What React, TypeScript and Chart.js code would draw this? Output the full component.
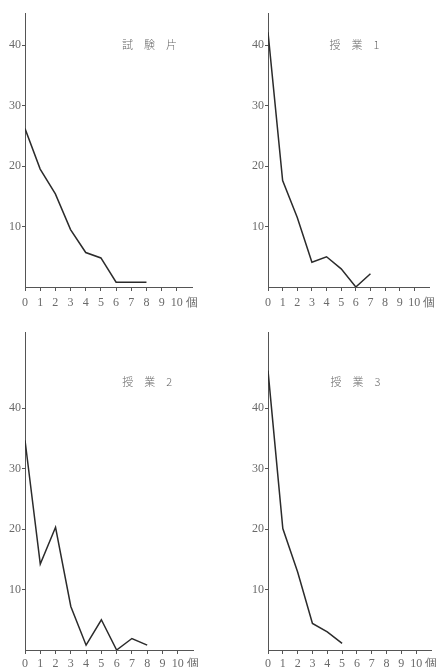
import React, { useEffect, useRef } from "react";
import { Chart, registerables } from "chart.js";

Chart.register(...registerables);

// Data (x = 0,1,2,... 個)
const xTickValues = [0, 1, 2, 3, 4, 5, 6, 7, 8, 9, 10, 11];
const xUnitLabel = "個";
const yTickValues = [10, 20, 30, 40];

const titles = ["試　験　片", "授　業　1", "授　業　2", "授　業　3"];
const seriesShiken = [26.2, 19.5, 15.4, 9.5, 5.7, 4.8, 0.8, 0.8, 0.8];
const seriesJugyo1 = [42.1, 17.6, 11.5, 4.1, 5.0, 3.0, 0, 2.2];
const seriesJugyo2 = [34.7, 14.2, 20.3, 7.2, 0.8, 5.0, 0, 1.9, 0.8];
const seriesJugyo3 = [46.2, 20.1, 12.9, 4.4, 3.0, 1.1];

const TEXT_COLOR = "#6a6a6a";
const AXIS_COLOR = "#555555";
const LINE_COLOR = "#2b2b2b";
const SERIF = "'Liberation Serif', 'DejaVu Serif', serif";
const CJK = "'Noto Sans CJK JP', 'Noto Sans CJK SC', sans-serif";

type PanelCfg = {
  title: string;
  values: number[];
  yMax: number;
  titleX: number;
  titleY: number;
  left: number;
  top: number;
  width: number;
  height: number;
  yAxisWidth: number;
  xAxisHeight: number;
  xLabelPad: number;
  padTop: number;
  padRight: number;
};

const panels: PanelCfg[] = [
  { title: titles[0], values: seriesShiken, yMax: 45.3, titleX: 8.2, titleY: 40, left: 0, top: 0, width: 220, height: 320, yAxisWidth: 25, xAxisHeight: 33, xLabelPad: 5, padTop: 13, padRight: 28 },
  { title: titles[1], values: seriesJugyo1, yMax: 45.3, titleX: 5.9, titleY: 40, left: 220, top: 0, width: 220, height: 320, yAxisWidth: 48, xAxisHeight: 33, xLabelPad: 5, padTop: 13, padRight: 6 },
  { title: titles[2], values: seriesJugyo2, yMax: 52.6, titleX: 8.0, titleY: 44.3, left: 0, top: 320, width: 220, height: 347, yAxisWidth: 25, xAxisHeight: 17, xLabelPad: 3, padTop: 12, padRight: 27 },
  { title: titles[3], values: seriesJugyo3, yMax: 52.6, titleX: 5.9, titleY: 44.3, left: 220, top: 320, width: 220, height: 347, yAxisWidth: 48, xAxisHeight: 17, xLabelPad: 3, padTop: 12, padRight: 6 },
];

function Panel({ cfg }: { cfg: PanelCfg }) {
  const ref = useRef<HTMLCanvasElement | null>(null);
  useEffect(() => {
    if (!ref.current) return;
    const titlePlugin = {
      id: "panelTitle",
      afterDraw(chart: any) {
        const { ctx, scales } = chart;
        const px = scales.x.getPixelForValue(cfg.titleX);
        const py = scales.y.getPixelForValue(cfg.titleY);
        ctx.save();
        ctx.fillStyle = TEXT_COLOR;
        ctx.font = `300 11px ${CJK}`;
        ctx.textAlign = "center";
        ctx.textBaseline = "middle";
        ctx.fillText(cfg.title, px, py);
        ctx.restore();
      },
    };
    const chart = new Chart(ref.current, {
      type: "line",
      data: {
        datasets: [
          {
            data: cfg.values.map((v, i) => ({ x: i, y: v })),
            borderColor: LINE_COLOR,
            borderWidth: 1.5,
            pointRadius: 0,
            tension: 0,
            fill: false,
          },
        ],
      },
      options: {
        responsive: false,
        animation: false,
        events: [],
        layout: {
          autoPadding: false,
          padding: { top: cfg.padTop, right: cfg.padRight, left: 0, bottom: 0 },
        },
        plugins: { legend: { display: false }, tooltip: { enabled: false }, title: { display: false } },
        scales: {
          x: {
            type: "linear",
            min: 0,
            max: 11,
            afterBuildTicks: (scale: any) => {
              scale.ticks = xTickValues.map((v) => ({ value: v }));
            },
            afterFit: (scale: any) => {
              scale.height = cfg.xAxisHeight;
            },
            border: { color: AXIS_COLOR, width: 1 },
            grid: {
              drawOnChartArea: false,
              drawTicks: true,
              tickLength: 4,
              tickColor: (c: any) => (c.tick && c.tick.value === 11 ? "rgba(0,0,0,0)" : AXIS_COLOR),
            },
            ticks: {
              autoSkip: false,
              maxRotation: 0,
              padding: cfg.xLabelPad,
              color: TEXT_COLOR,
              font: { family: SERIF, size: 12 },
              callback: (v: any) => (v === 11 ? xUnitLabel : String(v)),
            },
          },
          y: {
            type: "linear",
            min: 0,
            max: cfg.yMax,
            afterBuildTicks: (scale: any) => {
              scale.ticks = yTickValues.map((v) => ({ value: v }));
            },
            afterFit: (scale: any) => {
              scale.width = cfg.yAxisWidth;
            },
            border: { color: AXIS_COLOR, width: 1 },
            grid: { drawOnChartArea: false, drawTicks: true, tickLength: 3, tickColor: AXIS_COLOR },
            ticks: {
              padding: 1,
              color: TEXT_COLOR,
              font: { family: SERIF, size: 12 },
              callback: (v: any) => String(v),
            },
          },
        },
      } as any,
      plugins: [titlePlugin],
    });
    return () => chart.destroy();
  }, [cfg]);
  return (
    <canvas
      ref={ref}
      width={cfg.width}
      height={cfg.height}
      style={{ position: "absolute", left: cfg.left, top: cfg.top, width: cfg.width, height: cfg.height }}
    />
  );
}

export default function App() {
  return (
    <div style={{ position: "fixed", left: 0, top: 0, width: 440, height: 667, background: "#ffffff" }}>
      {panels.map((p, i) => (
        <Panel key={i} cfg={p} />
      ))}
    </div>
  );
}
